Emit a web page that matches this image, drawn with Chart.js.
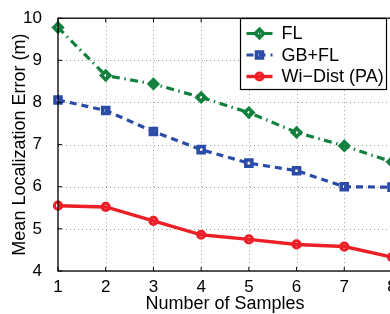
<!DOCTYPE html>
<html>
<head>
<meta charset="utf-8">
<script src="https://cdn.jsdelivr.net/npm/chart.js@4.4.0/dist/chart.umd.min.js"></script>
<style>
html, body { margin: 0; padding: 0; background: #fff; overflow: hidden; }
#_canvasp { width: 400px; height: 314px; }
</style>
</head>
<body>
<div id="_canvasp"><canvas id="_canvasc" width="400" height="314"></canvas></div>
<script>
	// ******************************************************** DATA

	var samples    = ['1', '2', '3', '4', '5', '6', '7', '8'];
	var flError    = [9.78, 8.64, 8.44, 8.12, 7.76, 7.29, 6.97, 6.59];
	var gbflError  = [8.06, 7.81, 7.31, 6.88, 6.56, 6.38, 6.00, 5.99];
	var wiDistErr  = [5.55, 5.52, 5.19, 4.86, 4.75, 4.63, 4.58, 4.33];
	var yTicks     = [4, 5, 6, 7, 8, 9, 10];
	var names      = ['FL', 'GB+FL', 'Wi\u2212Dist (PA)'];

	var GREEN = 'rgb(18,128,62)';
	var BLUE  = 'rgb(42,76,166)';
	var RED   = 'rgb(236,30,38)';
	var FONT  = '"Liberation Sans", Arial, Helvetica, sans-serif';

	// ******************************************************** PLUGINS

	// dotted grid drawn under the lines
	var dottedGrid = {
		id: 'dottedGrid',
		beforeDatasetsDraw: function (chart) {
			var a = chart.chartArea, ctx = chart.ctx;
			var xs = chart.scales.x, ys = chart.scales.y;
			ctx.save();
			ctx.strokeStyle = '#9a9a9a';
			ctx.lineWidth = 1;
			ctx.setLineDash([1, 3]);
			ctx.beginPath();
			for (var i = 0; i < samples.length; i++) {
				var px = Math.round(xs.getPixelForTick(i)) + 0.5;
				ctx.moveTo(px, a.top); ctx.lineTo(px, a.bottom);
			}
			yTicks.forEach(function (v) {
				var py = Math.round(ys.getPixelForValue(v)) + 0.5;
				ctx.moveTo(a.left, py); ctx.lineTo(a.right, py);
			});
			ctx.stroke();
			ctx.restore();
		}
	};

	function marker(ctx, style, x, y, r) {
		ctx.beginPath();
		if (style === 'rectRot') {
			ctx.moveTo(x, y - r); ctx.lineTo(x + r, y); ctx.lineTo(x, y + r); ctx.lineTo(x - r, y); ctx.closePath();
		} else if (style === 'rect') {
			var s = r * Math.SQRT1_2;
			ctx.rect(x - s, y - s, 2 * s, 2 * s);
		} else {
			ctx.arc(x, y, r, 0, Math.PI * 2);
		}
		ctx.stroke();
	}

	// axes box, inward ticks, legend
	var boxAndLegend = {
		id: 'boxAndLegend',
		afterDraw: function (chart) {
			var a = chart.chartArea, ctx = chart.ctx;
			var xs = chart.scales.x, ys = chart.scales.y;
			ctx.save();
			ctx.strokeStyle = '#000';
			ctx.lineWidth = 1.3;
			ctx.strokeRect(a.left, a.top, a.right - a.left, a.bottom - a.top);
			ctx.beginPath();
			for (var i = 0; i < samples.length; i++) {
				var px = xs.getPixelForTick(i);
				ctx.moveTo(px, a.bottom); ctx.lineTo(px, a.bottom - 4);
				ctx.moveTo(px, a.top); ctx.lineTo(px, a.top + 4);
			}
			yTicks.forEach(function (v) {
				var py = ys.getPixelForValue(v);
				ctx.moveTo(a.left, py); ctx.lineTo(a.left + 4, py);
			});
			ctx.lineWidth = 1;
			ctx.stroke();

			// legend
			var x0 = 240.5, y0 = 18.5, w = 146, h = 71;
			ctx.fillStyle = '#fff';
			ctx.fillRect(x0, y0, w, h);
			ctx.strokeStyle = '#000';
			ctx.lineWidth = 1.2;
			ctx.strokeRect(x0, y0, w, h);
			chart.data.datasets.forEach(function (ds, k) {
				var yy = y0 + 15 + k * 21.5;
				ctx.strokeStyle = ds.borderColor;
				ctx.lineWidth = ds.borderWidth;
				ctx.setLineDash(ds.borderDash || []);
				ctx.beginPath();
				ctx.moveTo(x0 + 6, yy); ctx.lineTo(x0 + 32, yy);
				ctx.stroke();
				ctx.setLineDash([]);
				ctx.lineWidth = ds.pointBorderWidth;
				marker(ctx, ds.pointStyle, x0 + 19, yy, ds.pointRadius);
				ctx.fillStyle = '#000';
				ctx.font = '18px ' + FONT;
				ctx.textBaseline = 'middle';
				ctx.textAlign = 'left';
				ctx.fillText(ds.label, x0 + 41, yy + 1);
			});
			ctx.restore();
		}
	};

	// ******************************************************** CONFIG

	var config = {
		type: 'line',
		data: {
			labels: samples,
			datasets: [{
				label: names[0],
				data: flError,
				borderColor: GREEN,
				borderWidth: 3.2,
				borderDash: [8, 4.5, 1.5, 4.5],
				pointStyle: 'rectRot',
				pointRadius: 4.2,
				pointBorderWidth: 3.5,
				pointBorderColor: GREEN,
				pointBackgroundColor: 'rgba(255,255,255,0)',
				clip: false
			}, {
				label: names[1],
				data: gbflError,
				borderColor: BLUE,
				borderWidth: 3.2,
				borderDash: [7, 5],
				pointStyle: 'rect',
				pointRadius: 4.3,
				pointBorderWidth: 3.5,
				pointBorderColor: BLUE,
				pointBackgroundColor: 'rgba(255,255,255,0)',
				clip: false
			}, {
				label: names[2],
				data: wiDistErr,
				borderColor: RED,
				borderWidth: 3.4,
				pointStyle: 'circle',
				pointRadius: 3.6,
				pointBorderWidth: 3,
				pointBorderColor: RED,
				pointBackgroundColor: 'rgba(255,255,255,0)',
				clip: false
			}]
		},
		options: {
			responsive: false,
			animation: false,
			layout: { padding: { top: 14, right: 8, left: 0, bottom: 0 } },
			plugins: {
				legend: { display: false },
				tooltip: { enabled: false }
			},
			scales: {
				x: {
					offset: false,
					grid: { display: false },
					border: { display: false },
					ticks: { color: '#000', padding: -2, maxRotation: 0, font: { family: FONT, size: 17 } },
					title: { display: true, text: 'Number of Samples', color: '#000', padding: { top: 0, bottom: 0 }, font: { family: FONT, size: 18, lineHeight: 1.1 } },
					afterFit: function (s) { s.height = 43; }
				},
				y: {
					min: 4,
					max: 10,
					grid: { display: false },
					border: { display: false },
					ticks: { stepSize: 1, color: '#000', padding: 8, font: { family: FONT, size: 17 } },
					title: { display: true, text: 'Mean Localization Error (m)', color: '#000', padding: { top: 9, bottom: 0 }, font: { family: FONT, size: 18 } },
					afterFit: function (s) { s.width = 58; }
				}
			}
		},
		plugins: [dottedGrid, boxAndLegend]
	};

	// ******************************************************** CHART

	var _ctxc = document.getElementById('_canvasc').getContext('2d');
	window.myChart = new Chart(_ctxc, config);
</script>
</body>
</html>
